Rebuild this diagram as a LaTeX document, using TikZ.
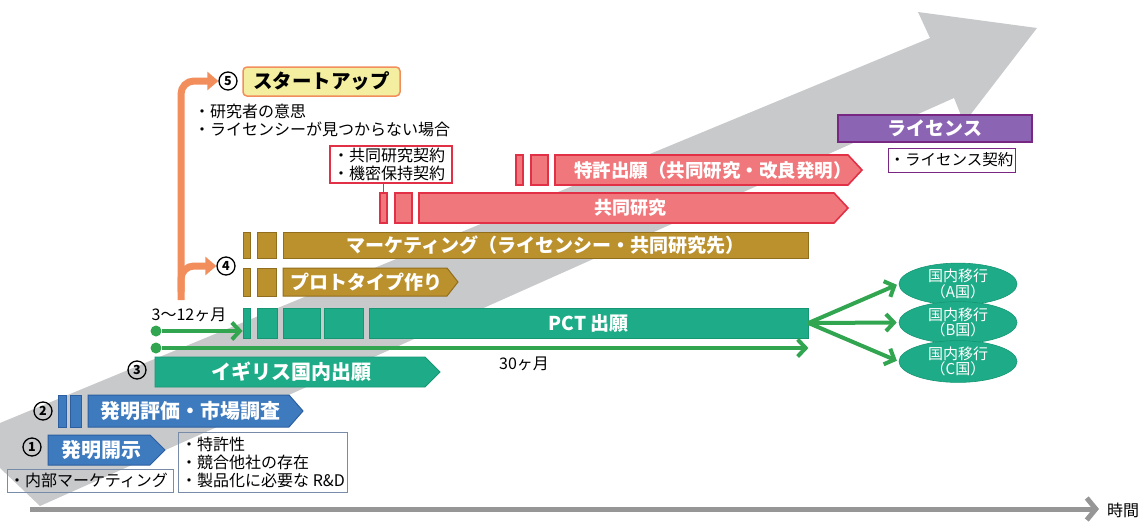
\documentclass[tikz,border=0pt]{standalone}
\usepackage{fontspec}
\setmainfont{Noto Sans CJK JP}
\usetikzlibrary{arrows.meta,shapes.geometric}
\definecolor{bigGray}{RGB}{200,201,203}
\definecolor{axisGray}{RGB}{150,150,150}
\definecolor{blueF}{RGB}{62,122,190}
\definecolor{blueD}{RGB}{45,95,160}
\definecolor{greenF}{RGB}{30,172,136}
\definecolor{greenD}{RGB}{22,150,115}
\definecolor{lineGreen}{RGB}{50,165,80}
\definecolor{goldF}{RGB}{187,145,45}
\definecolor{goldD}{RGB}{145,110,30}
\definecolor{redF}{RGB}{240,120,124}
\definecolor{redD}{RGB}{226,48,70}
\definecolor{purpleF}{RGB}{140,100,180}
\definecolor{purpleD}{RGB}{120,40,130}
\definecolor{orangeL}{RGB}{242,142,92}
\definecolor{yellowF}{RGB}{243,238,160}
\definecolor{boxBlue}{RGB}{120,140,170}
\newcommand\pent[6]{\path[#1] (#2,#3) -- ({#4-#6},#3) -- (#4,{(#3+#5)/2}) -- ({#4-#6},#5) -- (#2,#5) -- cycle;}
\tikzset{
  lbl/.style={text=white, font=\bfseries\fontsize{19}{21}\selectfont, inner sep=0},
  sm/.style={font=\fontsize{16}{18}\selectfont, align=left, inner sep=0},
  circ/.style={circle, draw, line width=1.3pt, inner sep=0, minimum size=18pt, font=\bfseries\fontsize{12.5}{12.5}\selectfont},
  bluebar/.style={fill=blueF, draw=blueD, line width=1pt, inner sep=0},
  greenbar/.style={fill=greenF, draw=greenD, line width=0.8pt, inner sep=0},
  goldbar/.style={fill=goldF, draw=goldD, line width=1pt, inner sep=0},
  redbar/.style={fill=redF, draw=redD, line width=1.6pt, inner sep=0},
  gline/.style={draw=lineGreen, line width=4pt, -{Straight Barb[length=8pt,width=17pt]}},
  gdot/.style={circle, fill=lineGreen, inner sep=0, minimum size=11pt},
  orangearrow/.style={draw=orangeL, line width=7pt, rounded corners=13pt, -{Triangle[length=11pt,width=18pt]}},
  infobox/.style={draw=boxBlue, line width=0.8pt, inner sep=0},
  countryel/.style={ellipse, fill=greenF, draw=greenD, line width=0.6pt, minimum width=118pt, minimum height=37pt, inner sep=0, text=white, font=\fontsize{15}{15.5}\selectfont, align=center}
}
\begin{document}
\begin{tikzpicture}[x=1pt,y=-1pt]
\useasboundingbox (0,0) rectangle (1143,523);
% big gray arrow
\fill[bigGray] (0,423) -- (930,38) -- (918,12) -- (1037,28) -- (964,123) -- (954,98) -- (40,506) -- (0,468) -- cycle;
% time axis
\coordinate (ax0) at (30,509);
\node[font=\fontsize{16}{16}\selectfont, inner sep=0] (tlabel) at (1123,510) {時間};
\coordinate (ax1) at (1099,509);
\draw[draw=axisGray, line width=5pt, -{Straight Barb[length=9pt,width=22pt]}] (ax0) -- (ax1);

% row 1
\node[circ] (n1) at (32,447) {1};
\pent{bluebar}{48}{435}{165}{465}{15}
\node[lbl, font=\bfseries\fontsize{20}{22}\selectfont] (t1) at (101,450) {発明開示};
\node[infobox, minimum width=166pt, minimum height=23pt] (bx1) at (90,480.5) {};
\node[sm, anchor=west] (bx1t) at (9,480.5) {・内部マーケティング};
\node[infobox, minimum width=169pt, minimum height=60pt] (bx2) at (262.5,462) {};
\node[sm, anchor=west] (bx2t) at (181,462) {・特許性\\・競合他社の存在\\・製品化に必要な R\&D};

% row 2
\node[circ] (n2) at (43,411) {2};
\node[bluebar, minimum width=8pt, minimum height=32pt] (b2a) at (62,411) {};
\node[bluebar, minimum width=11pt, minimum height=32pt] (b2b) at (75.5,411) {};
\pent{bluebar}{88}{395}{303}{427}{14}
\node[lbl, font=\bfseries\fontsize{20}{22}\selectfont] (t2) at (190,411) {発明評価・市場調査};

% row 3
\node[circ] (n3) at (137,370) {3};
\pent{greenbar}{155}{357}{440}{387}{15}
\node[lbl, font=\bfseries\fontsize{20}{22}\selectfont] (t3) at (291,372) {イギリス国内出願};

% PCT row
\node[greenbar, minimum width=7pt, minimum height=30pt] (p1) at (246.5,323) {};
\node[greenbar, minimum width=20pt, minimum height=30pt] (p2) at (267,323) {};
\node[greenbar, minimum width=37pt, minimum height=30pt] (p3) at (301.5,323) {};
\node[greenbar, minimum width=39pt, minimum height=30pt] (p4) at (343.5,323) {};
\node[greenbar, minimum width=439pt, minimum height=30pt, lbl] (pct) at (588.5,323) {PCT 出願};
\node[gdot] (d1) at (156,331) {};
\draw[gline] (d1) -- (d1 -| p1.west);
\node[font=\fontsize{16}{16}\selectfont, inner sep=0] (m1) at (189,315) {3〜12ヶ月};
\node[gdot] (d2) at (156,348) {};
\draw[gline] (d2) -- (d2 -| pct.east);
\node[font=\fontsize{16}{16}\selectfont, inner sep=0] (m2) at (524,364) {30ヶ月};

% countries
\node[countryel] (elA) at (958,284) {国内移行\\（A国）};
\node[countryel] (elB) at (958,322.5) {国内移行\\（B国）};
\node[countryel] (elC) at (958,361.5) {国内移行\\（C国）};
\draw[gline, shorten >=2pt] (pct.east) -- (elA.west);
\draw[gline, shorten >=2pt] (pct.east) -- (elB.west);
\draw[gline, shorten >=2pt] (pct.east) -- (elC.west);

% gold rows
\node[goldbar, minimum width=7pt, minimum height=26pt] (g1) at (246.5,245) {};
\node[goldbar, minimum width=19pt, minimum height=26pt] (g2) at (266.5,245) {};
\node[goldbar, minimum width=525pt, minimum height=26pt, lbl] (mkt) at (545.5,245) {マーケティング（ライセンシー・共同研究先）};
\node[goldbar, minimum width=7pt, minimum height=28pt] (g3) at (246.5,282) {};
\node[goldbar, minimum width=19pt, minimum height=28pt] (g4) at (266.5,282) {};
\pent{goldbar}{283}{268}{458}{296}{11}
\node[lbl] (t4) at (366,282) {プロトタイプ作り};
\node[circ] (n4) at (226,266) {4};

% orange arrows
\coordinate (os) at (181,300);
\node[circ] (n5) at (228,81) {5};
\draw[orangearrow] (os) -- (181,81) -- (n5.west);
\draw[orangearrow] (181,292) -- (181,266) -- (n4.west);

% startup
\node[fill=yellowF, draw=orangeL, line width=1.5pt, rounded corners=4pt, minimum width=157pt, minimum height=29pt, inner sep=0, font=\bfseries\fontsize{19.5}{21}\selectfont] (su) at (321.5,81.5) {スタートアップ};
\node[sm, anchor=north west] (sut) at (194,104) {・研究者の意思\\・ライセンシーが見つからない場合};

% red rows
\node[draw=redD, line width=1.2pt, fill=white, minimum width=122pt, minimum height=37pt, inner sep=0] (ct) at (391,164.5) {};
\node[sm, anchor=west] (ctt) at (333,164.5) {・共同研究契約\\・機密保持契約};
\node[redbar, minimum width=7pt, minimum height=30pt] (r1) at (383.5,208) {};
\node[redbar, minimum width=17pt, minimum height=30pt] (r2) at (403.5,208) {};
\pent{redbar}{419}{193}{848}{223}{14}
\node[lbl, font=\bfseries\fontsize{18}{20}\selectfont] (t5) at (630,208) {共同研究};
\draw[draw=redD, line width=1pt] (ct.south -| r1) -- (r1.north);
\node[redbar, minimum width=7pt, minimum height=30pt] (r3) at (519.5,170) {};
\node[redbar, minimum width=17pt, minimum height=30pt] (r4) at (539.5,170) {};
\pent{redbar}{555}{155}{862}{185}{14}
\node[lbl, font=\bfseries\fontsize{18.5}{20}\selectfont] (t6) at (713,170) {特許出願（共同研究・改良発明）};

% license
\node[fill=purpleF, draw=purpleD, line width=1.5pt, minimum width=194pt, minimum height=27pt, lbl] (lic) at (935,128.5) {ライセンス};
\node[draw=purpleD, line width=1pt, fill=white, minimum width=127pt, minimum height=24pt, inner sep=0, font=\fontsize{15.5}{18}\selectfont] (lict) at (951.5,160) {・ライセンス契約};
\end{tikzpicture}
\end{document}
